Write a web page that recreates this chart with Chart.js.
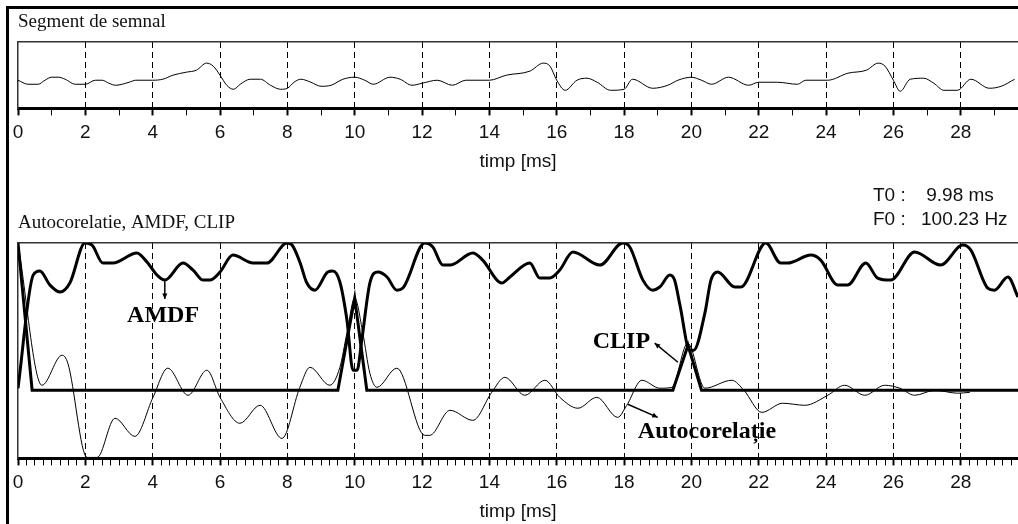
<!DOCTYPE html>
<html>
<head>
<meta charset="utf-8">
<script src="https://cdn.jsdelivr.net/npm/chart.js@4.4.1/dist/chart.umd.min.js"></script>
<style>
  html, body { margin: 0; padding: 0; background: #fff; }
  body { width: 1018px; height: 524px; position: relative; overflow: hidden; }
  canvas { position: absolute; left: 0; }
  #frame { position: absolute; left: 6px; top: 6px; width: 1100px; height: 600px;
           border-left: 3px solid #000; border-top: 3px solid #000; pointer-events: none; }
  #info { position: absolute; left: 873px; top: 183px; font: 19px "Liberation Sans", Arial, sans-serif;
          color: #111; line-height: 24px; }
  #info span { display: inline-block; width: 48px; }
</style>
</head>
<body>
<canvas id="sig" width="1018" height="177" style="top:0"></canvas>
<canvas id="corr" width="1018" height="347" style="top:180px"></canvas>
<div id="frame"></div>
<div id="info">
  <div><span>T0 :</span>&nbsp;9.98 ms</div>
  <div><span>F0 :</span>100.23 Hz</div>
</div>
<script>
// time axis, ms
const T_MAX = 29.7;
const labelStep = 2;

// speech segment (top panel), arbitrary amplitude
const sigT = [0,0.3,0.6,0.8,1.0,1.2,1.4,1.7,2.0,2.3,2.5,2.7,2.9,3.3,3.5,4.0,4.3,4.6,5.0,5.3,5.6,5.8,6.0,6.2,6.4,6.6,6.9,7.2,7.5,7.8,
  8.0,8.2,8.4,8.7,9.0,9.3,9.65,10.0,10.3,10.55,11.05,11.35,11.7,12.0,12.45,12.9,13.3,14.0,14.5,15.2,15.6,15.8,16.0,16.25,16.6,16.9,17.2,17.6,
  18.0,18.25,18.85,19.3,19.6,20.0,20.3,20.6,21.1,21.7,22.0,22.55,23.15,23.4,24.05,24.65,25.2,25.55,25.75,26.0,26.2,26.5,26.9,27.2,27.5,27.9,
  28.3,28.85,29.2,29.6];
const sigV = [0,-0.4,-0.4,0,0.3,0.3,0.1,-0.4,-0.4,0,0,-0.3,-0.5,-0.2,0,0,0.1,0.5,0.8,1.0,1.7,1.4,0.5,-0.5,-0.9,-0.4,0.1,0.1,-0.5,-0.9,
  -0.8,-0.2,0.1,-0.2,-0.6,-0.5,0.1,0.3,0,-0.4,0.3,0.1,-0.5,-0.3,0,-0.5,0,0,0.5,0.9,1.7,1.4,0,-1.0,0,0.2,-0.2,-1.0,
  -0.9,0.1,-0.8,-0.5,0,0.3,0,-0.4,0.3,-0.5,-0.2,-0.2,-0.4,0,0,0.7,1.0,1.7,1.4,0,-1.1,0.1,0.2,-0.3,-1.0,-1.0,
  0.1,-0.8,-0.6,0.1];

// autocorrelation (normalised)
const acfT = [0,0.71,1.31,1.48,2.05,2.35,2.88,3.47,4.01,4.45,5.05,5.61,6.0,6.59,7.19,7.84,8.37,8.67,9.26,9.56,9.77,10.0,10.24,10.45,10.66,
  11.25,12.08,12.23,12.83,13.51,14.07,14.46,15.05,15.65,16.09,16.63,17.19,17.81,18.08,18.53,19.06,19.42,19.89,20.4,21.2,21.56,22.09,22.71,
  23.37,24.05,24.55,25.15,25.74,26.19,26.63,27.23,27.91,28.27];
const acfV = [1.0,0.034,0.238,0.184,-0.456,-0.456,-0.19,-0.313,-0.048,0.15,-0.034,0.136,-0.048,-0.224,-0.102,-0.327,0.02,0.156,0.034,0.156,0.39,0.626,0.39,0.116,0.02,
  0.15,-0.306,-0.306,-0.136,-0.204,-0.014,0.088,-0.034,0.068,-0.048,-0.122,-0.048,-0.184,-0.102,0.068,0.014,0.02,0.32,0.014,0.068,0.0,-0.15,-0.088,
  -0.102,-0.034,0.034,-0.034,0.034,0.014,-0.034,0.0,-0.02,-0.014];

// AMDF (normalised, inverted display)
const amdfT = [0,0.45,0.65,0.95,1.25,1.54,1.99,2.2,2.52,2.82,3.53,3.83,4.13,4.36,4.9,5.2,5.5,5.7,6.0,6.38,6.98,7.39,7.99,8.14,8.37,
  8.58,8.82,9.2,9.35,9.56,9.77,9.95,10.07,10.21,10.45,10.69,10.96,11.25,11.43,12.08,12.32,12.62,12.83,13.51,13.8,14.37,14.61,15.2,15.5,15.8,
  16.09,16.48,17.28,17.96,18.17,18.56,18.85,19.06,19.36,19.5,19.66,19.95,20.07,20.4,20.58,20.78,21.29,21.47,22.21,22.65,22.86,23.55,23.84,
  24.35,24.64,25.18,25.53,25.92,26.63,27.4,28.06,28.3,28.8,29.0,29.4,29.7];
const amdfV = [0.014,0.782,0.81,0.714,0.667,0.728,1.0,0.986,0.864,0.864,0.932,0.871,0.782,0.748,0.864,0.816,0.748,0.748,0.803,0.918,0.864,0.864,1.0,0.986,0.871,
  0.728,0.68,0.803,0.81,0.735,0.476,0.136,0.136,0.34,0.728,0.803,0.769,0.68,0.694,1.0,0.973,0.85,0.85,0.932,0.884,0.728,0.769,0.864,0.762,0.762,
  0.816,0.939,0.85,1.0,0.973,0.748,0.68,0.701,0.782,0.748,0.578,0.272,0.272,0.524,0.748,0.803,0.701,0.701,1.0,0.864,0.864,0.918,0.884,
  0.714,0.714,0.864,0.762,0.748,0.939,0.85,0.986,0.952,0.694,0.68,0.769,0.633];

// center-clipped autocorrelation
const clipT = [0,0.42,9.5,10.0,10.36,19.45,19.9,20.3,29.7];
const clipV = [1,0,0,0.626,0,0,0.306,0,0];

const SANS = '"Liberation Sans", Arial, sans-serif';
const SERIF = '"Liberation Serif", "Times New Roman", serif';

const pts = (ts, vs) => ts.map((t, i) => ({x: t, y: vs[i]}));

function timeAxis(minorStep) {
  return {
    type: 'linear', position: 'bottom', min: 0, max: T_MAX, bounds: 'data',
    afterFit: s => { s.paddingRight = 0; },
    ticks: {
      stepSize: minorStep, autoSkip: false, includeBounds: false, maxRotation: 0, padding: 6,
      color: '#111', font: {family: SANS, size: 19},
      callback: v => (Math.abs(v % labelStep) < 1e-9 ? String(v) : '')
    },
    grid: {
      drawOnChartArea: true,
      color: c => (c.tick && c.tick.value > 0 && Math.abs(c.tick.value % labelStep) < 1e-9) ? '#000' : 'rgba(0,0,0,0)',
      lineWidth: 1,
      tickLength: 7,
      tickColor: '#000',
      tickWidth: c => (c.tick && Math.abs(c.tick.value % labelStep) < 1e-9) ? 2 : 1
    },
    border: {display: true, color: '#000', width: 3, dash: [6, 4]},
    title: {display: true, text: 'timp [ms]', color: '#111', font: {family: SANS, size: 19}, padding: {top: 0, bottom: 4}}
  };
}

function frameAxes(minorStep, yMin, yMax) {
  return {
    x: timeAxis(minorStep),
    xTop: {
      axis: 'x', type: 'linear', position: 'top', min: 0, max: T_MAX,
      ticks: {display: false}, grid: {display: false, drawTicks: false},
      border: {display: true, color: '#333', width: 1.5}
    },
    y: {
      min: yMin, max: yMax,
      ticks: {display: false}, grid: {display: false, drawTicks: false},
      border: {display: true, color: '#333', width: 1.5}
    }
  };
}

function panelTitle(text, padTop, padBottom) {
  return {
    display: true, text: text, align: 'start', color: '#111',
    font: {family: SERIF, size: 19, weight: 'normal'},
    padding: {top: padTop, bottom: padBottom}
  };
}

// top panel
new Chart(document.getElementById('sig'), {
  type: 'line',
  data: {
    datasets: [{
      data: pts(sigT, sigV), borderColor: '#000', borderWidth: 1,
      pointRadius: 0, cubicInterpolationMode: 'monotone', fill: false
    }]
  },
  options: {
    responsive: false, animation: false,
    layout: {padding: {left: 18, right: 0, top: 0, bottom: 0}},
    plugins: {legend: {display: false}, tooltip: {enabled: false}, title: panelTitle('Segment de semnal', 10.6, 8.6)},
    scales: frameAxes(1, -2.8, 3.8)
  }
});

// labels with pointer lines in the lower panel: text anchor, label end, curve point
const notes = [
  {text: 'AMDF', at: [3.24, 0.463], from: [4.36, 0.62], to: [4.36, 0.74]},
  {text: 'CLIP', at: [17.07, 0.286], from: [18.91, 0.32], to: [19.6, 0.19]},
  {text: 'Autocorelație', at: [18.41, -0.327], from: [19.0, -0.184], to: [18.11, -0.095]}
];

const notePlugin = {
  id: 'notes',
  afterDatasetsDraw(chart) {
    const {ctx, scales: {x, y}} = chart;
    ctx.save();
    ctx.fillStyle = '#000';
    ctx.strokeStyle = '#000';
    ctx.lineWidth = 1.5;
    ctx.font = 'bold 24px ' + SERIF;
    ctx.textBaseline = 'alphabetic';
    notes.forEach(n => {
      ctx.fillText(n.text, x.getPixelForValue(n.at[0]), y.getPixelForValue(n.at[1]));
      const x1 = x.getPixelForValue(n.to[0]), y1 = y.getPixelForValue(n.to[1]);
      const x2 = x.getPixelForValue(n.from[0]), y2 = y.getPixelForValue(n.from[1]);
      ctx.beginPath();
      ctx.moveTo(x1, y1);
      ctx.lineTo(x2, y2);
      ctx.stroke();
      const a = Math.atan2(y2 - y1, x2 - x1);
      ctx.beginPath();
      ctx.moveTo(x2, y2);
      ctx.lineTo(x2 - 6 * Math.cos(a - 0.45), y2 - 6 * Math.sin(a - 0.45));
      ctx.lineTo(x2 - 6 * Math.cos(a + 0.45), y2 - 6 * Math.sin(a + 0.45));
      ctx.closePath();
      ctx.fill();
    });
    ctx.restore();
  }
};

// lower panel
new Chart(document.getElementById('corr'), {
  type: 'line',
  data: {
    datasets: [
      {label: 'Autocorelatie', data: pts(acfT, acfV), borderColor: '#000', borderWidth: 1,
       pointRadius: 0, cubicInterpolationMode: 'monotone', fill: false},
      {label: 'AMDF', data: pts(amdfT, amdfV), borderColor: '#000', borderWidth: 3,
       pointRadius: 0, cubicInterpolationMode: 'monotone', fill: false},
      {label: 'CLIP', data: pts(clipT, clipV), borderColor: '#000', borderWidth: 3,
       pointRadius: 0, tension: 0, fill: false}
    ]
  },
  options: {
    responsive: false, animation: false,
    layout: {padding: {left: 18, right: 0, top: 0, bottom: 0}},
    plugins: {legend: {display: false}, tooltip: {enabled: false}, title: panelTitle('Autocorelatie, AMDF, CLIP', 31.6, 8.6)},
    scales: frameAxes(0.25, -0.4626, 1.0)
  },
  plugins: [notePlugin]
});
</script>
</body>
</html>
